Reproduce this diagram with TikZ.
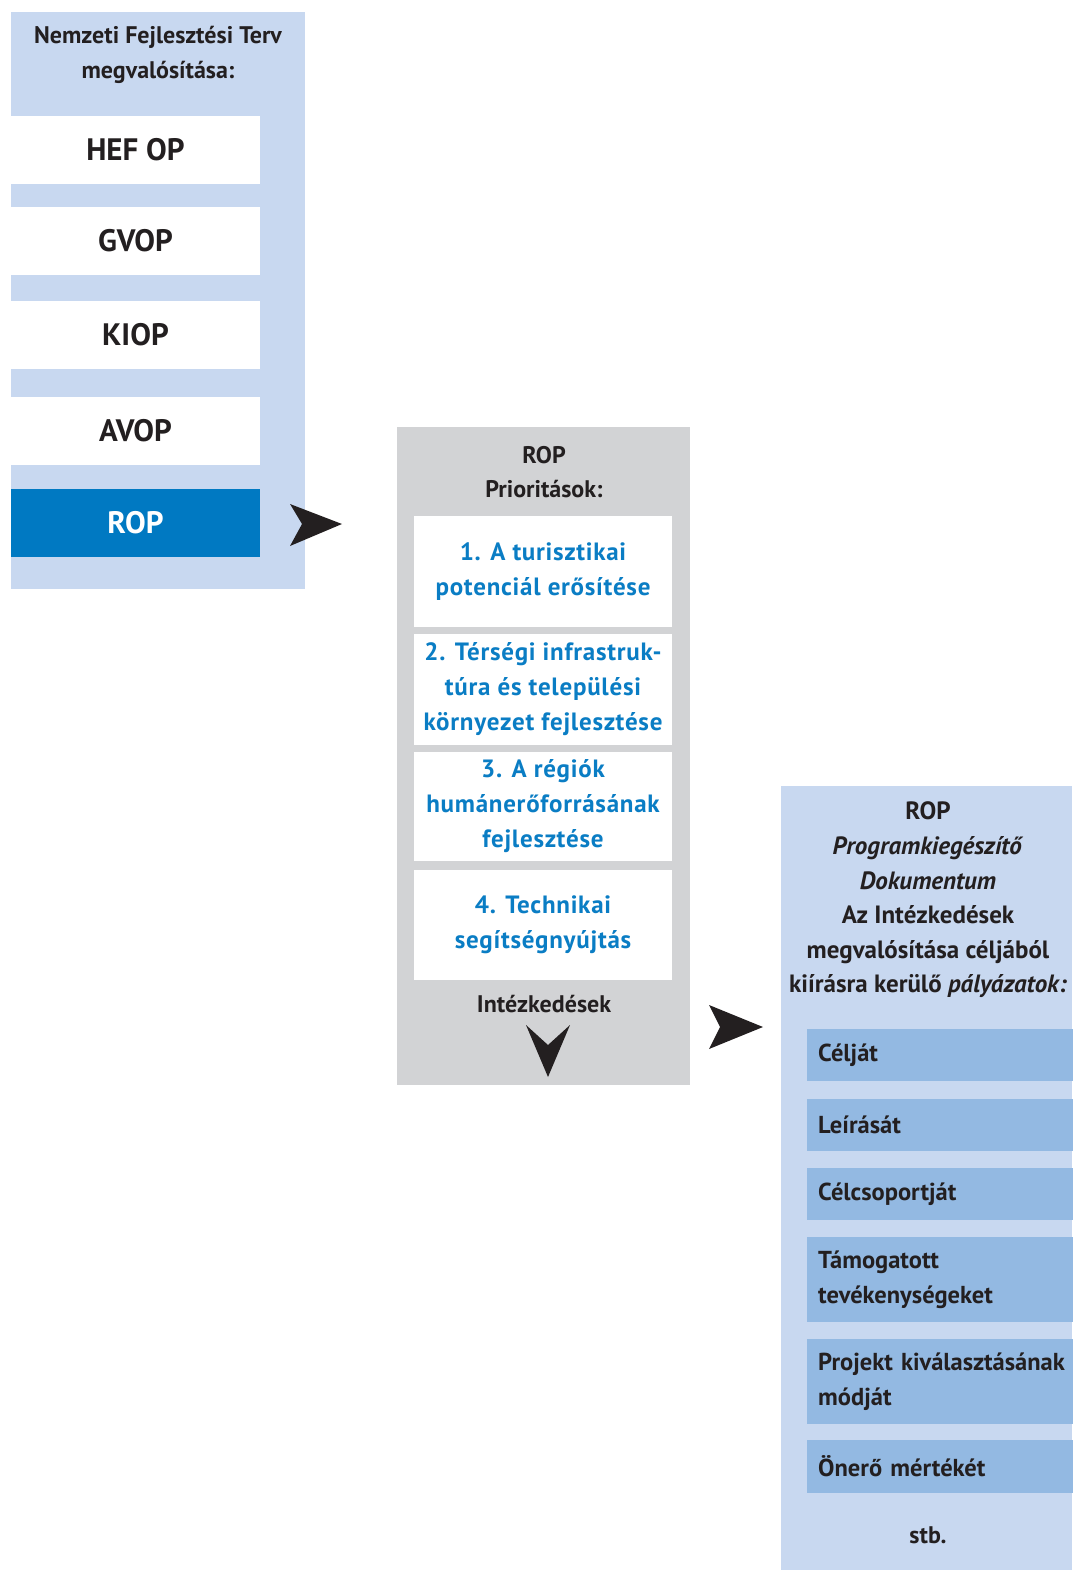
\documentclass[tikz,border=0pt]{standalone}
\usepackage{fontspec}
\setmainfont{PT Sans}
\definecolor{lb}{RGB}{200,216,240}
\definecolor{mb}{RGB}{147,185,226}
\definecolor{ropblue}{RGB}{0,121,194}
\definecolor{pgray}{RGB}{210,211,213}
\definecolor{ink}{RGB}{35,31,32}
\definecolor{pblue}{RGB}{10,125,196}
\tikzset{
  panel/.style={inner sep=0pt, outer sep=0pt, anchor=north west, draw=none},
  hdr/.style={inner sep=0pt, align=center, text=ink, font=\fontsize{24}{34.5}\selectfont\bfseries},
  wbox/.style={inner sep=0pt, fill=white, minimum width=249pt, minimum height=68pt, text=ink, font=\fontsize{31}{40}\selectfont\bfseries},
  pbox/.style={inner sep=0pt, fill=white, minimum width=258pt, align=center, text=pblue, font=\fontsize{25}{35}\selectfont\bfseries\addfontfeature{LetterSpace=3}},
  ibox/.style={anchor=west, inner sep=0pt, inner xsep=11pt, fill=mb, minimum width=290pt, text width=268pt, align=left, text=ink, font=\fontsize{24.5}{35}\selectfont\bfseries},
  tip/.style={fill=ink, draw=none}
}
\begin{document}
\begin{tikzpicture}[x=1pt,y=-1pt]
\useasboundingbox (0,0) rectangle (1072,1570);
% left panel
\node[panel, fill=lb, minimum width=294pt, minimum height=577pt] (nfp) at (11,12) {};
\node[hdr] (nfpt) at (158,55) {Nemzeti Fejlesztési Terv\\megvalósítása:};
\node[wbox] (hef) at (135.5,150) {HEF OP};
\node[wbox] (gvop) at (135.5,241) {GVOP};
\node[wbox] (kiop) at (135.5,335) {KIOP};
\node[wbox] (avop) at (135.5,430.5) {AVOP};
\node[wbox, fill=ropblue, text=white] (rop) at (135.5,523) {ROP};
\fill[tip] (290,504) -- (342,524) -- (290,546) -- (302,524) -- cycle;
% middle panel
\node[panel, fill=pgray, minimum width=293pt, minimum height=658pt] (prio) at (397,427) {};
\node[hdr] (priot) at (544,472) {ROP\\Prioritások:};
\node[pbox, minimum height=111pt] (p1) at (543,571.5) {1. A turisztikai\\potenciál erősítése};
\node[pbox, minimum height=111pt] (p2) at (543,689.5) {2. Térségi infrastruk-\\túra és települési\\környezet fejlesztése};
\node[pbox, minimum height=109pt] (p3) at (543,806.5) {3. A régiók\\humánerőforrásának\\fejlesztése};
\node[pbox, minimum height=110pt] (p4) at (543,925) {4. Technikai\\segítségnyújtás};
\node[hdr] (intz) at (544,1004) {Intézkedések};
\fill[tip] (526,1025) -- (548,1077) -- (570,1025) -- (548,1045) -- cycle;
\fill[tip] (709,1005) -- (763,1027) -- (709,1049) -- (720,1027) -- cycle;
% right panel
\node[panel, fill=lb, minimum width=291pt, minimum height=784pt] (pkd) at (781,786) {};
\node[hdr, font=\fontsize{25}{34.6}\selectfont\bfseries] (pkdt) at (928,900) {ROP\\\textit{Programkiegészítő}\\\textit{Dokumentum}\\Az Intézkedések\\megvalósítása céljából\\kiírásra kerülő \textit{pályázatok:}};
\node[ibox, minimum height=52pt] (i1) at (807,1055) {Célját};
\node[ibox, minimum height=52pt] (i2) at (807,1125) {Leírását};
\node[ibox, minimum height=52pt] (i3) at (807,1194) {Célcsoportját};
\node[ibox, minimum height=85pt] (i4) at (807,1279.5) {Támogatott\\tevékenységeket};
\node[ibox, minimum height=85pt] (i5) at (807,1381.5) {Projekt kiválasztásának\\módját};
\node[ibox, minimum height=53pt] (i6) at (807,1466.5) {Önerő mértékét};
\node[hdr] (stb) at (928,1535) {stb.};
\end{tikzpicture}
\end{document}
